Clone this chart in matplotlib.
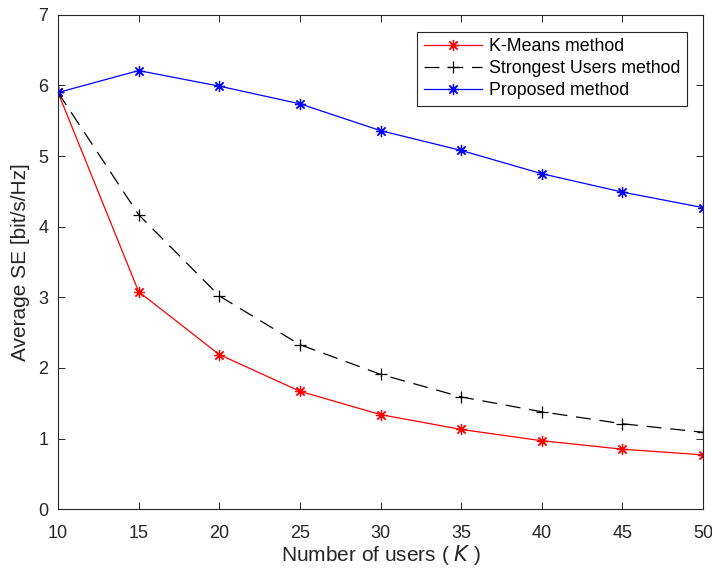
import matplotlib
matplotlib.use("Agg")
import matplotlib.pyplot as plt

# number of users K
users = [10, 15, 20, 25, 30, 35, 40, 45, 50]

# average SE [bit/s/Hz]
kmeans_se = [5.90, 3.08, 2.19, 1.67, 1.34, 1.13, 0.97, 0.85, 0.77]
strongest_se = [5.90, 4.17, 3.02, 2.33, 1.91, 1.59, 1.38, 1.21, 1.09]
proposed_se = [5.90, 6.21, 5.99, 5.74, 5.36, 5.08, 4.75, 4.49, 4.27]

plt.rcParams['font.family'] = ['Liberation Sans', 'DejaVu Sans']
axis_grey = (0.15, 0.15, 0.15)
asterisk = (8, 2, 0)

fig = plt.figure(figsize=(7.12, 5.69), dpi=100)
ax = fig.add_axes([0.0815, 0.105, 0.906, 0.869])

ax.plot(users, kmeans_se, color='red', lw=0.9, marker=asterisk,
        markersize=8, markeredgewidth=0.9, label='K-Means method')
ax.plot(users, strongest_se, color='black', lw=0.9, ls=(0, (12, 7)),
        marker='+', markersize=9, markeredgewidth=0.9,
        label='Strongest Users method')
ax.plot(users, proposed_se, color='blue', lw=0.9, marker=asterisk,
        markersize=8, markeredgewidth=0.9, label='Proposed method')

ax.set_xlim(10, 50)
ax.set_ylim(0, 7)
ax.set_xticks(users)
ax.set_yticks(range(0, 8))
ax.tick_params(direction='in', length=5, width=0.7, colors=axis_grey,
               labelsize=13, top=True, right=True)
ax.tick_params(axis='x', pad=11)
ax.tick_params(axis='y', pad=7)
for side in ax.spines.values():
    side.set_color(axis_grey)
    side.set_linewidth(0.8)

ax.set_xlabel('Number of users ( $K$ )', fontsize=15, color=axis_grey,
              labelpad=1)
ax.set_ylabel('Average SE [bit/s/Hz]', fontsize=15, color=axis_grey,
              labelpad=6)

leg = ax.legend(loc='upper right', bbox_to_anchor=(0.975, 0.966),
                fontsize=12.8, fancybox=False, framealpha=1,
                handlelength=3.3, borderpad=0.35, labelspacing=0.3,
                handletextpad=0.4, borderaxespad=0)
leg.get_frame().set_edgecolor(axis_grey)
leg.get_frame().set_linewidth(0.8)

fig.savefig('out.png', dpi=100)
